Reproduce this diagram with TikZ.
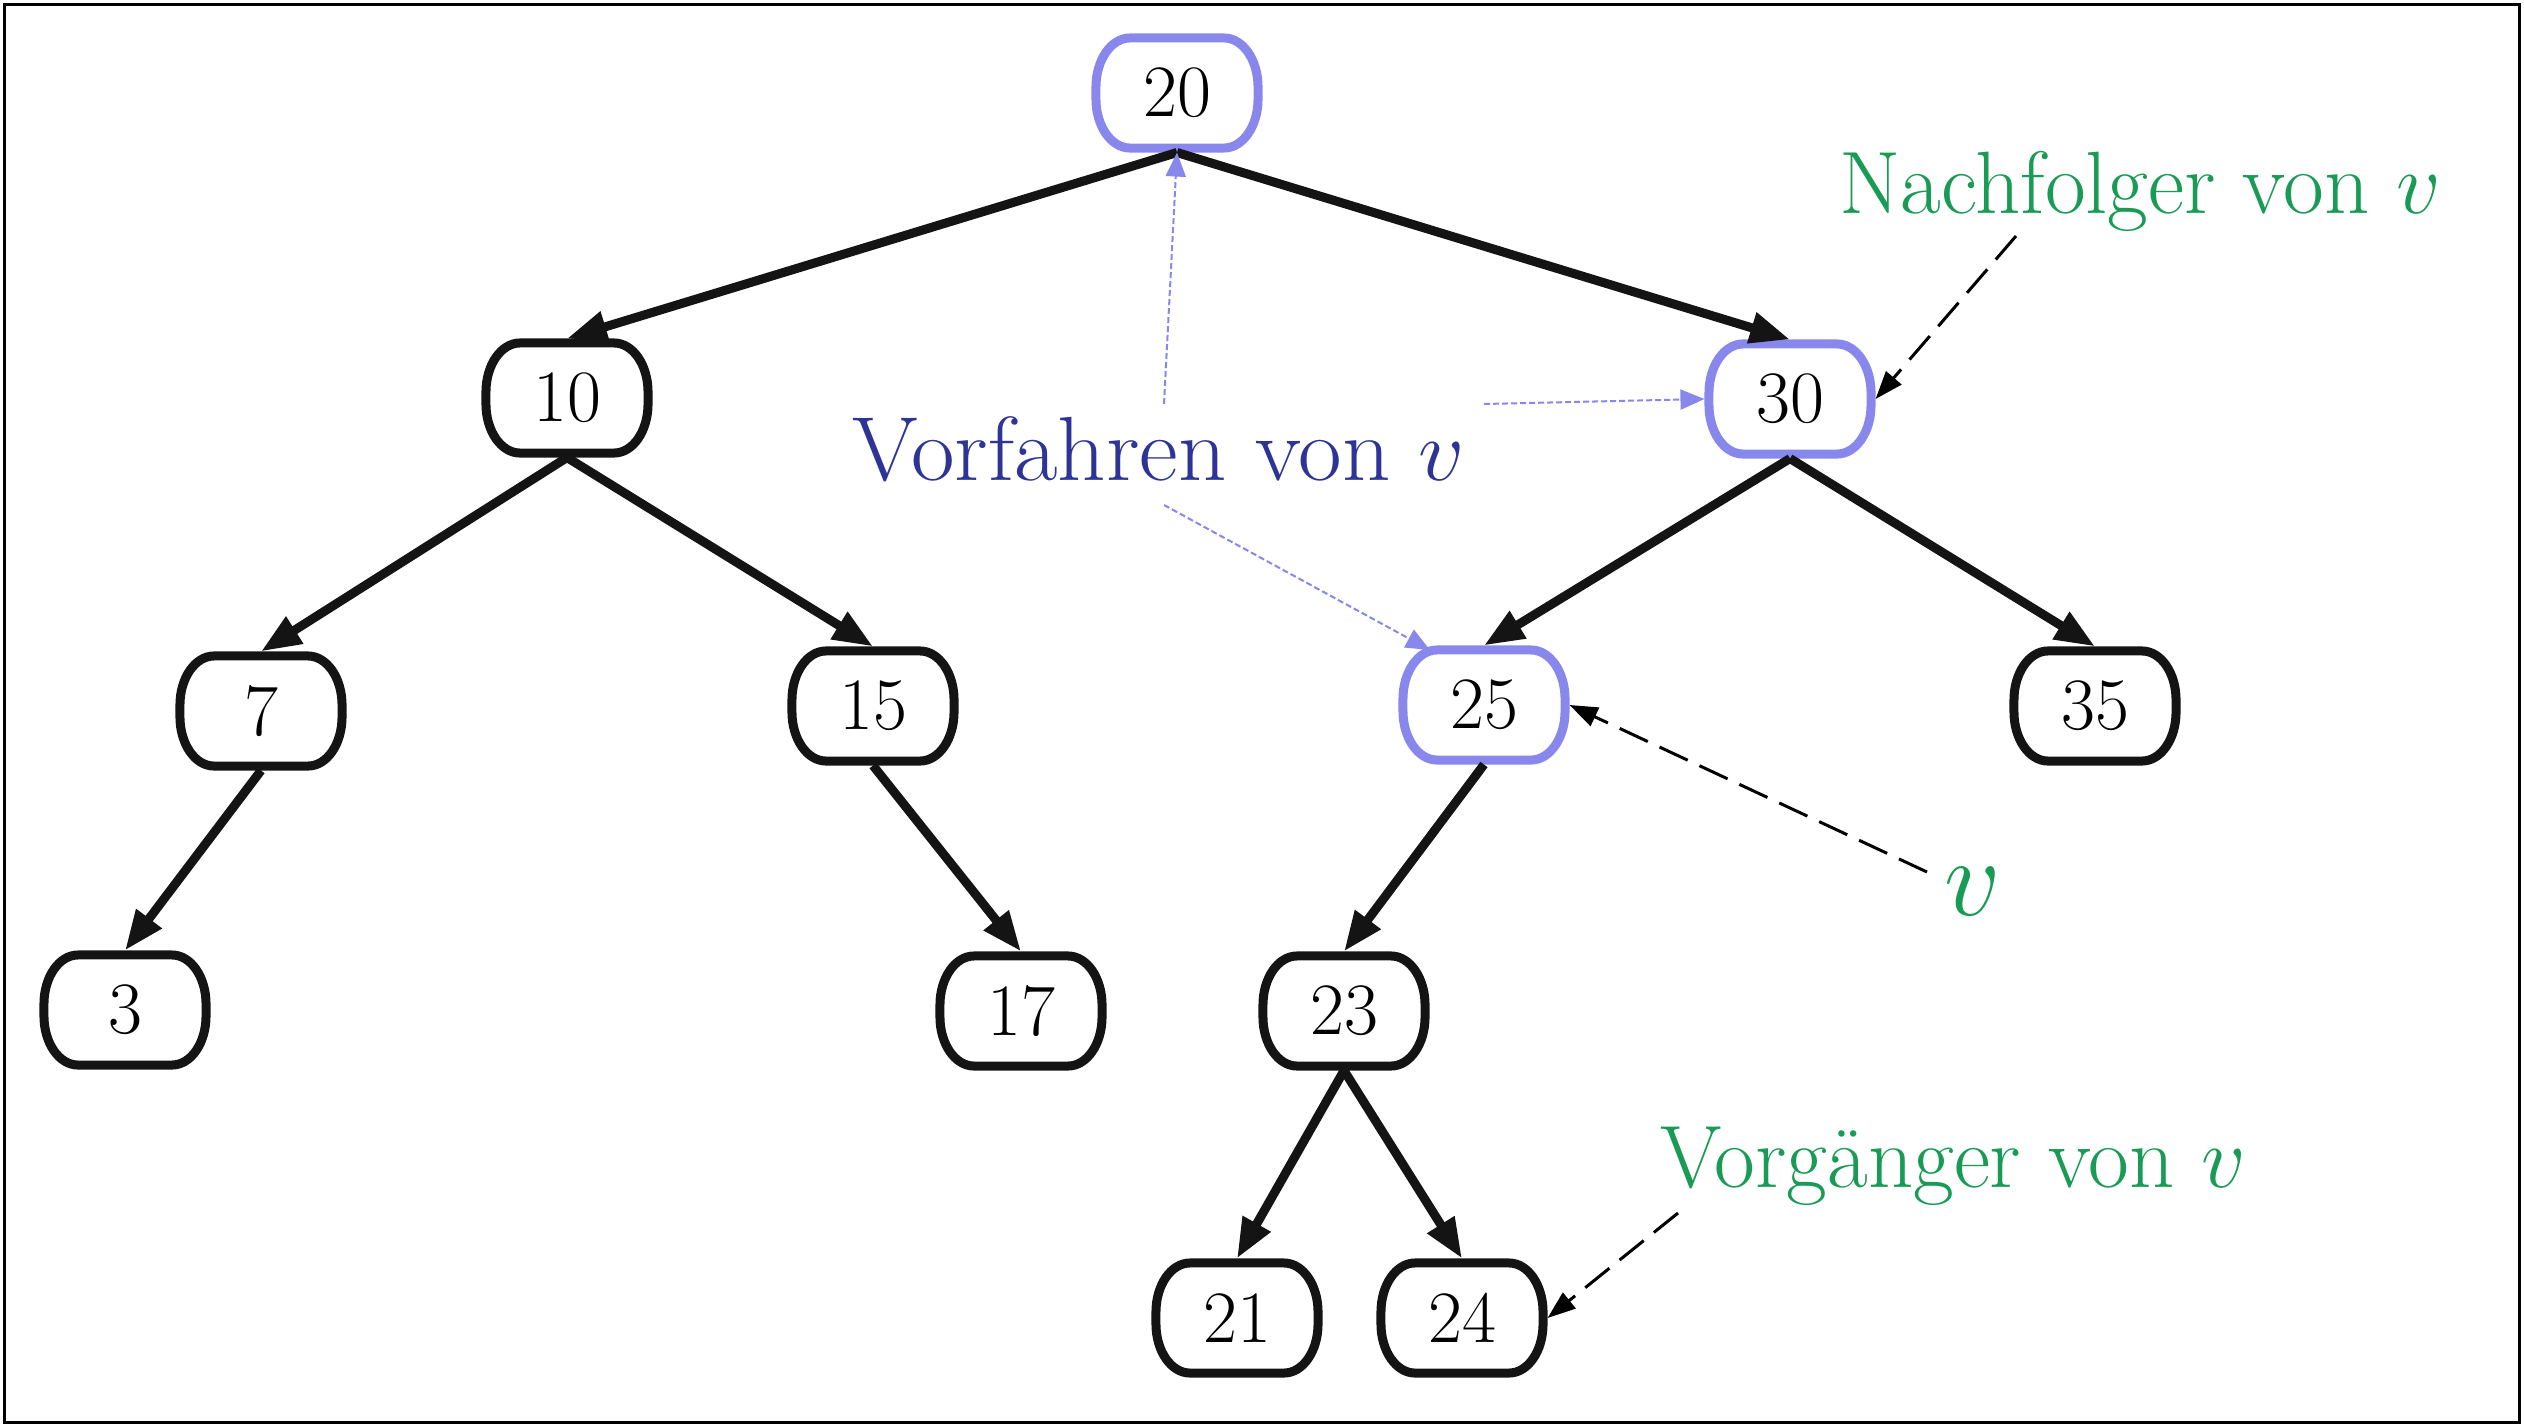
\documentclass[tikz,border=0pt]{standalone}
\usepackage{graphicx}
\usetikzlibrary{arrows.meta,calc}
\definecolor{nodeblue}{RGB}{136,136,236}
\definecolor{textblue}{RGB}{45,52,150}
\definecolor{labgreen}{RGB}{25,155,85}
\definecolor{edgeblack}{RGB}{20,20,20}
\begin{document}
\begin{tikzpicture}[x=0.01cm,y=-0.01cm,
  tnode/.style={draw=none, line width=0.09cm,
    minimum width=1.62cm, minimum height=1.10cm, inner sep=0pt,
    font=\fontsize{21}{25}\selectfont},
  nshape/.style={line width=0.09cm, draw=edgeblack},
  hshape/.style={line width=0.09cm, draw=nodeblue},
  tedge/.style={draw=edgeblack, line width=0.09cm, -{Triangle[length=0.4cm,width=0.3cm]}},
  bedge/.style={draw=nodeblue, line width=0.02cm, dash pattern=on 0.06cm off 0.03cm,
    -{Triangle[length=0.24cm,width=0.2cm]}},
  dedge/.style={draw=black, line width=0.03cm, dash pattern=on 0.31cm off 0.13cm,
    -{Triangle[length=0.28cm,width=0.2cm]}},
  glabel/.style={text=labgreen, anchor=base, inner sep=0pt, font=\fontsize{25.2}{30}\selectfont},
]
\useasboundingbox (0,0) rectangle (2524,1427);
\draw[line width=0.03cm] (4.5,4.5) rectangle (2519.5,1422.5);

\node[tnode] (n20) at (1177,93) {20};
\node[tnode] (n10) at (567,398) {10};
\node[tnode] (n30) at (1790,399) {30};
\node[tnode] (n7)  at (261,711) {7};
\node[tnode] (n15) at (873,706) {15};
\node[tnode] (n25) at (1484,705) {25};
\node[tnode] (n35) at (2095,706) {35};
\node[tnode] (n3)  at (125,1010) {3};
\node[tnode] (n17) at (1021,1011) {17};
\node[tnode] (n23) at (1344,1011) {23};
\node[tnode] (n21) at (1237,1318) {21};
\node[tnode] (n24) at (1462,1318) {24};

\foreach \n/\s in {n20/hshape,n30/hshape,n25/hshape,n10/nshape,n7/nshape,n15/nshape,
                   n35/nshape,n3/nshape,n17/nshape,n23/nshape,n21/nshape,n24/nshape}
  \draw[\s] (\n.center) ++(-0.47cm,0.55cm) -- ++(0.94cm,0)
    arc[start angle=90,end angle=0,x radius=0.34cm,y radius=0.49cm] -- ++(0,-0.12cm)
    arc[start angle=0,end angle=-90,x radius=0.34cm,y radius=0.49cm] -- ++(-0.94cm,0)
    arc[start angle=270,end angle=180,x radius=0.34cm,y radius=0.49cm] -- ++(0,0.12cm)
    arc[start angle=180,end angle=90,x radius=0.34cm,y radius=0.49cm] -- cycle;

\draw[tedge] (n20.south) -- (n10.north);
\draw[tedge] (n20.south) -- (n30.north);
\draw[tedge] (n10.south) -- (n7.north);
\draw[tedge] (n10.south) -- (n15.north);
\draw[tedge] (n30.south) -- (n25.north);
\draw[tedge] (n30.south) -- (n35.north);
\draw[tedge] (n7.south) -- (n3.north);
\draw[tedge] (n15.south) -- (n17.north);
\draw[tedge] (n25.south) -- (n23.north);
\draw[tedge] (n23.south) -- (n21.north);
\draw[tedge] (n23.south) -- (n24.north);

\node[text=textblue, anchor=base, inner sep=0pt, font=\fontsize{25.9}{30}\selectfont]
  (vorf) at (1159,480) {\scalebox{1.04}[1]{Vorfahren von $v$}};
\node[glabel] (nach) at (2140,213) {Nachfolger von $v$};
\node[glabel] (vorg) at (1953,1187) {Vorgänger von $v$};
\node[text=labgreen, anchor=base, inner sep=0pt, font=\fontsize{24.88}{30}\selectfont]
  (vlab) at (1973,915) {\scalebox{1.27}{$v$}};

\coordinate (vf1) at (1164,404);
\coordinate (vf2) at (1484,404);
\coordinate (vf3) at (1164,505);
\coordinate (nachS) at (2016,236);
\coordinate (vS) at (1927,872);
\coordinate (vorgS) at (1678,1213);

\draw[bedge] (vf1) -- (n20.south);
\draw[bedge] (vf2) -- (n30.west);
\draw[bedge] (vf3) -- ($(n25.center)+(-54,-55)$);
\draw[dedge] (nachS) -- (n30.east);
\draw[dedge] (vS) -- (n25.east);
\draw[dedge] (vorgS) -- (n24.east);
\end{tikzpicture}
\end{document}
